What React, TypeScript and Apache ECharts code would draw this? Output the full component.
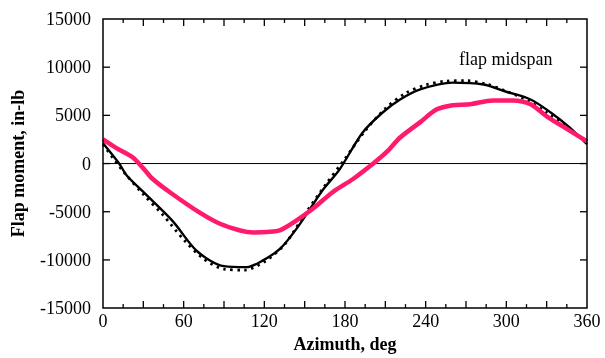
import React, { useEffect, useRef } from "react";
import * as echarts from "echarts";

const solidAz = [0, 12, 18, 33, 52, 70, 90, 107, 119, 132, 144, 154, 164, 176, 193, 208, 221, 236, 260, 283, 300, 318, 333, 347, 360];
const solidVal = [2100, 0, -1300, -3350, -6000, -9100, -10650, -10750, -10050, -8800, -6750, -4700, -2650, -600, 3200, 5300, 6650, 7700, 8400, 8200, 7450, 6650, 5300, 3750, 2000];

const dottedAz = [0, 15, 30, 45, 60, 75, 90, 105, 120, 135, 150, 165, 180, 195, 210, 225, 240, 255, 270, 285, 300, 315, 330, 345, 360];
const dottedVal = [2000, -800, -3200, -5400, -7900, -9900, -10950, -11050, -10200, -8400, -5300, -2300, 500, 3400, 5700, 7300, 8150, 8550, 8600, 8250, 7500, 6600, 5300, 3800, 2100];

const pinkAz = [0, 10, 22, 30, 37, 50, 72, 87, 102, 112, 122, 132, 144, 156, 171, 186, 201, 211, 221, 236, 248, 260, 273, 290, 305, 318, 330, 342, 360];
const pinkVal = [2500, 1600, 650, -500, -1600, -3000, -5100, -6250, -6950, -7150, -7100, -6900, -5900, -4700, -2950, -1600, 0, 1200, 2700, 4300, 5600, 6050, 6150, 6550, 6550, 6150, 4900, 3850, 2300];

const xTickLabels = [0, 60, 120, 180, 240, 300, 360];
const xTickValues = [15, 30, 45, 60, 75, 90, 105, 120, 135, 150, 165, 180, 195, 210, 225, 240, 255, 270, 285, 300, 315, 330, 345];
const yTickValues = [-10000, -5000, 0, 5000, 10000];

const X_MIN = 0, X_MAX = 360, Y_MIN = -15000, Y_MAX = 15000;

const pair = (a: number[], v: number[]) => a.map((x, i) => [x, v[i]]);

const FONT = "Liberation Serif";
const stroke = (w: number) => ({ stroke: "#000", lineWidth: w });

export default function App() {
  const ref = useRef<HTMLDivElement>(null);
  useEffect(() => {
    const chart = echarts.init(ref.current!, null, { renderer: "svg" });
    chart.setOption({
      animation: false,
      grid: { left: 103, right: 18, top: 19, bottom: 48 },
      xAxis: {
        type: "value",
        min: X_MIN,
        max: X_MAX,
        interval: 60,
        axisLine: { show: false },
        axisTick: { show: false },
        splitLine: { show: false },
        name: "Azimuth, deg",
        nameLocation: "middle",
        nameGap: 26,
        nameTextStyle: { fontFamily: FONT, fontSize: 18, fontWeight: "bold", color: "#000" },
        axisLabel: {
          fontFamily: FONT,
          fontSize: 18,
          color: "#000",
          margin: 4,
          formatter: (v: number) => (xTickLabels.includes(v) ? String(v) : ""),
        },
      },
      yAxis: {
        type: "value",
        min: Y_MIN,
        max: Y_MAX,
        interval: 5000,
        axisLine: { show: false },
        axisTick: { show: false },
        splitLine: { show: false },
        name: "Flap moment, in-lb",
        nameLocation: "middle",
        nameGap: 76,
        nameTextStyle: { fontFamily: FONT, fontSize: 18, fontWeight: "bold", color: "#000" },
        axisLabel: { fontFamily: FONT, fontSize: 18, color: "#000", margin: 12, formatter: (v: number) => String(v) },
      },
      series: [
        {
          type: "line",
          data: pair(dottedAz, dottedVal),
          showSymbol: false,
          smooth: 0.3,
          lineStyle: { color: "#000", width: 2.8, type: [2.5, 4.5] },
          z: 3,
        },
        {
          type: "line",
          data: pair(solidAz, solidVal),
          showSymbol: false,
          smooth: 0.3,
          lineStyle: { color: "#000", width: 2.4 },
          z: 4,
        },
        {
          type: "line",
          data: pair(pinkAz, pinkVal),
          showSymbol: false,
          smooth: 0.3,
          lineStyle: { color: "#ff1a6e", width: 4.5 },
          z: 5,
        },
      ],
    });

    // Frame, ticks and zero line, positioned through the chart's own scales
    const px = (x: number, y: number) => chart.convertToPixel({ gridIndex: 0 }, [x, y]) as number[];
    const bl = px(X_MIN, Y_MIN);
    const tr = px(X_MAX, Y_MAX);
    const z0 = px(X_MIN, 0);
    const majorLen = 7, minorLen = 4;
    const els: any[] = [
      {
        type: "rect",
        shape: { x: bl[0], y: tr[1], width: tr[0] - bl[0], height: bl[1] - tr[1] },
        style: { fill: "none", stroke: "#000", lineWidth: 1.5 },
        silent: true,
        z: 10,
      },
      {
        type: "line",
        shape: { x1: bl[0], y1: z0[1], x2: tr[0], y2: z0[1] },
        style: stroke(1),
        silent: true,
        z: 1,
      },
    ];
    xTickValues.forEach((v) => {
      const p = px(v, Y_MIN);
      const len = v % 30 === 0 ? majorLen : minorLen;
      els.push({ type: "line", shape: { x1: p[0], y1: bl[1], x2: p[0], y2: bl[1] - len }, style: stroke(1.3), silent: true, z: 10 });
      els.push({ type: "line", shape: { x1: p[0], y1: tr[1], x2: p[0], y2: tr[1] + len }, style: stroke(1.3), silent: true, z: 10 });
    });
    yTickValues.forEach((v) => {
      const p = px(X_MIN, v);
      els.push({ type: "line", shape: { x1: bl[0], y1: p[1], x2: bl[0] + majorLen, y2: p[1] }, style: stroke(1.3), silent: true, z: 10 });
      els.push({ type: "line", shape: { x1: tr[0], y1: p[1], x2: tr[0] - majorLen, y2: p[1] }, style: stroke(1.3), silent: true, z: 10 });
    });
    els.push({
      type: "text",
      left: 459,
      top: 50,
      style: { text: "flap midspan", font: `18px "${FONT}"`, fill: "#000" },
      z: 10,
    });
    chart.setOption({ graphic: { elements: els } });

    return () => chart.dispose();
  }, []);
  return <div ref={ref} style={{ position: "fixed", left: 0, top: 0, width: 605, height: 358 }} />;
}
